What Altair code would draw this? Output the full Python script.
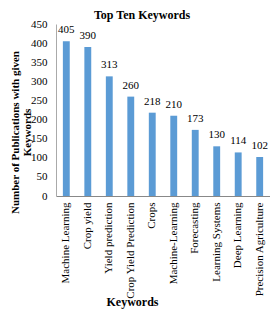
import altair as alt
import pandas as pd

keywords = ["Machine Learning", "Crop yield", "Yield prediction", "Crop Yield Prediction",
            "Crops", "Machine-Learning", "Forecasting", "Learning Systems",
            "Deep Learning", "Precision Agriculture"]
counts = [405, 390, 313, 260, 218, 210, 173, 130, 114, 102]

df = pd.DataFrame({"Keyword": keywords, "Count": counts})

FONT = "Liberation Serif"

x = alt.X("Keyword:N", sort=keywords,
          scale=alt.Scale(paddingInner=0.68, paddingOuter=0.32),
          axis=alt.Axis(title="Keywords", labelAngle=-90, labelFontSize=11, labelFont=FONT,
                        labelColor="#000", ticks=False, labelPadding=6,
                        domainColor="#888", titleFont=FONT, titleFontSize=12,
                        titleFontWeight="bold", titleColor="#000",
                        titleX=76, titleY=112, titleBaseline="bottom"))
y = alt.Y("Count:Q", scale=alt.Scale(domain=[0, 450]),
          axis=alt.Axis(title=["Number of Publications with given", "Keywords"],
                        values=list(range(0, 451, 50)), grid=False, ticks=False,
                        labelPadding=9, labelFontSize=11, labelFont=FONT, labelColor="#000",
                        domainColor="#aaa", titleFont=FONT, titleFontSize=11,
                        titleFontWeight="bold", titleColor="#000", titleLineHeight=12,
                        titleX=-47, titleY=108, titleBaseline="top", titleAlign="center"))

bars = alt.Chart(df).mark_bar(color="#5B9BD5").encode(x=x, y=y)
labels = alt.Chart(df).mark_text(baseline="bottom", dy=-6, font=FONT, fontSize=11,
                                 color="#000").encode(x=x, y=y, text="Count:Q")

chart = (bars + labels).properties(
    width=214, height=172,
    autosize=alt.AutoSizeParams(type="none"),
    padding={"left": 48, "top": 16, "right": 0, "bottom": 113},
    title=alt.TitleParams("Top Ten Keywords", font=FONT, fontSize=12, fontWeight="bold",
                          color="#000", anchor="middle", dx=-21, offset=-4),
).configure_view(stroke=None)

chart.save("out.html", embed_options={"renderer": "svg", "actions": False})
